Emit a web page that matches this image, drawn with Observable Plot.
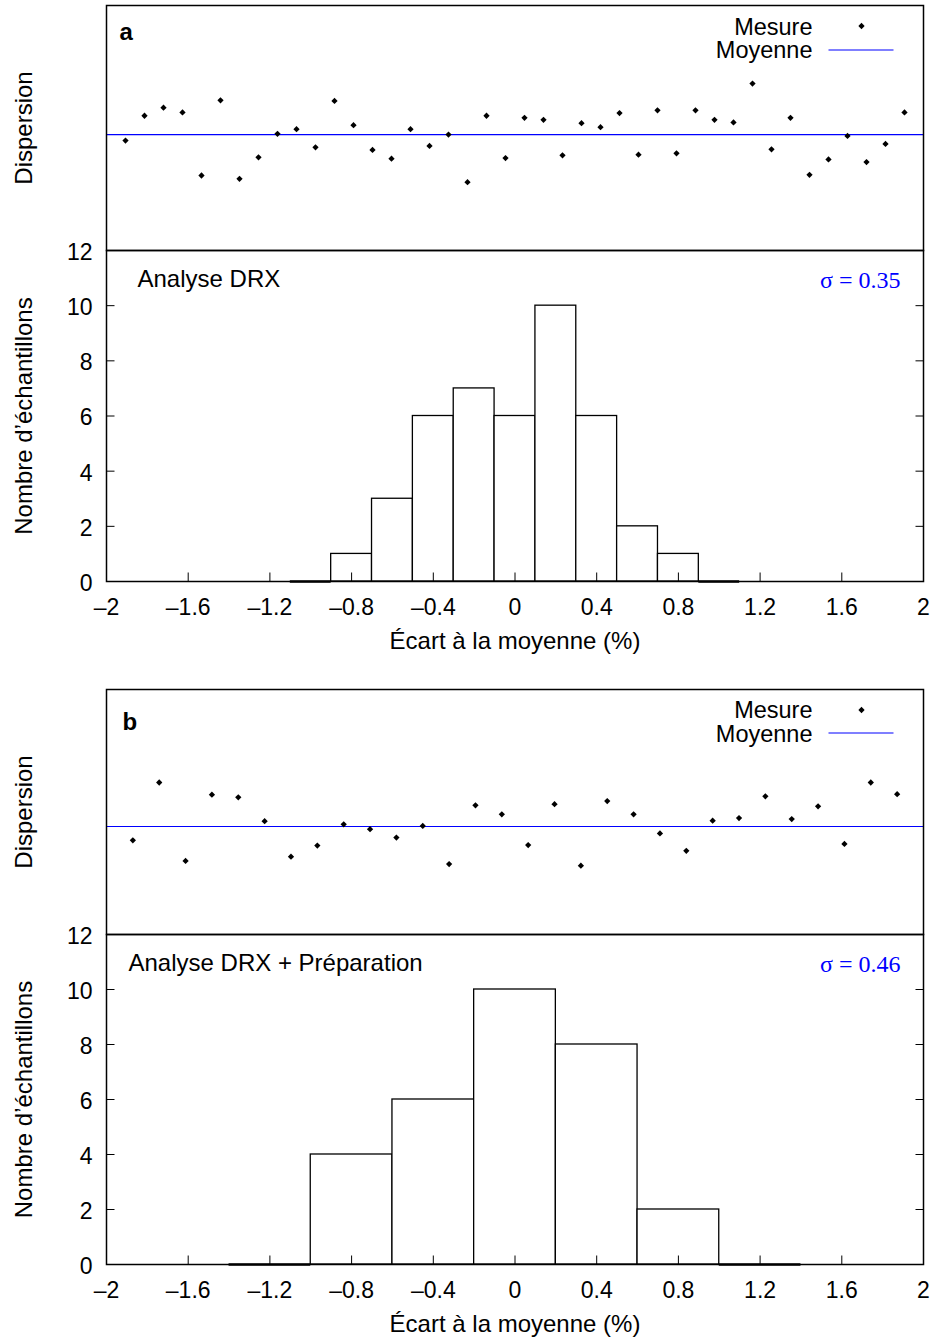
<!DOCTYPE html>
<html><head><meta charset="utf-8">
<script src="https://cdn.jsdelivr.net/npm/d3@7"></script>
<script src="https://cdn.jsdelivr.net/npm/@observablehq/plot@0.6"></script>
<style>
html,body{margin:0;padding:0;background:#fff;}
#fig{position:relative;width:936px;height:1341px;overflow:hidden;}
#fig svg{position:absolute;left:0;}
</style></head><body><div id="fig"></div>
<script>
// ---- Data ----
// Panel a: deviations of each measurement (scatter), mean line
const dispersionA = [-0.09, 0.28, 0.40, 0.33, -0.61, 0.51, -0.66, -0.34, 0.01, 0.08,
  -0.19, 0.50, 0.14, -0.23, -0.36, 0.08, -0.17, 0.00, -0.71, 0.28,
  -0.35, 0.25, 0.22, -0.31, 0.17, 0.11, 0.32, -0.30, 0.36, -0.28,
  0.36, 0.22, 0.18, 0.76, -0.22, 0.25, -0.60, -0.37, -0.02, -0.41,
  -0.14, 0.33];
const meanA = 0;
const binLowA  = [-1.1, -0.9, -0.7, -0.5, -0.3, -0.1, 0.1, 0.3, 0.5, 0.7, 0.9];
const binHighA = [-0.9, -0.7, -0.5, -0.3, -0.1, 0.1, 0.3, 0.5, 0.7, 0.9, 1.1];
const countsA  = [0, 1, 3, 6, 7, 6, 10, 6, 2, 1, 0];
const titleA = "Analyse DRX";
const sigmaA = "σ = 0.35";

// Panel b
const dispersionB = [-0.26, 0.83, -0.65, 0.60, 0.55, 0.10, -0.57, -0.36, 0.04, -0.05,
  -0.21, 0.01, -0.71, 0.40, 0.23, -0.35, 0.42, -0.74, 0.48, 0.23,
  -0.13, -0.46, 0.11, 0.16, 0.57, 0.14, 0.38, -0.33, 0.83, 0.61];
const meanB = 0;
const binLowB  = [-1.4, -1.0, -0.6, -0.2, 0.2, 0.6, 1.0];
const binHighB = [-1.0, -0.6, -0.2, 0.2, 0.6, 1.0, 1.4];
const countsB  = [0, 4, 6, 10, 8, 2, 0];
const titleB = "Analyse DRX + Préparation";
const sigmaB = "σ = 0.46";

// Axes
const xTicks = [-2, -1.6, -1.2, -0.8, -0.4, 0, 0.4, 0.8, 1.2, 1.6, 2];
const xTickLabels = ["–2", "–1.6", "–1.2", "–0.8", "–0.4", "0", "0.4", "0.8", "1.2", "1.6", "2"];
const yTicks = [0, 2, 4, 6, 8, 10, 12];
const xLabel = "Écart à la moyenne (%)";
const yLabelHist = "Nombre d’échantillons";
const yLabelScatter = "Dispersion";
const legendLabels = ["Mesure", "Moyenne"];

// ---- Drawing ----
const FONT = "'Liberation Sans', Arial, Helvetica, sans-serif";
const SERIF = "'Liberation Serif', 'Times New Roman', serif";
const BLUE = "rgb(0,0,255)";
const ML = 106, MR = 13;
const lineShape = {draw(context, l) { context.moveTo(0, 0); context.lineTo(0, -l); }};
const fig = document.getElementById("fig");

function place(svg, top) {
  svg.style.top = top + "px";
  fig.appendChild(svg);
}

function scatterPanel({values, mean, letter, letterDx, letterDy, legendDy, yDomain, top}) {
  const n = values.length;
  const svg = Plot.plot({
    width: 936, height: 255,
    marginLeft: ML, marginRight: MR, marginTop: 5, marginBottom: 5,
    style: {background: "transparent", overflow: "visible", fontFamily: FONT, fontSize: "24px"},
    x: {domain: [0, n + 1], axis: null},
    y: {domain: yDomain, axis: null},
    marks: [
      Plot.ruleY([mean], {stroke: BLUE, strokeWidth: 1.2}),
      Plot.dot(values, {x: (d, i) => i + 1, y: d => d, symbol: "square", r: 2.5, rotate: 45, fill: "black", stroke: "none"}),
      Plot.frame({stroke: "black", strokeWidth: 1.5}),
      Plot.text([letter], {frameAnchor: "top-left", dx: letterDx, dy: letterDy, lineAnchor: "bottom", textAnchor: "start", fontWeight: "bold", fontSize: 24}),
      Plot.text([legendLabels[0]], {frameAnchor: "top-right", dx: -111, dy: legendDy[0], lineAnchor: "bottom", textAnchor: "end", fontSize: 23.5}),
      Plot.text([legendLabels[1]], {frameAnchor: "top-right", dx: -111, dy: legendDy[1], lineAnchor: "bottom", textAnchor: "end", fontSize: 23.5}),
      Plot.dot([legendLabels[0]], {frameAnchor: "top-right", dx: -62, dy: legendDy[2], symbol: "square", r: 2.5, rotate: 45, fill: "black", stroke: "none"}),
      Plot.vector([legendLabels[1]], {frameAnchor: "top-right", dx: -95, dy: legendDy[3], rotate: 90, length: 65, anchor: "start", shape: lineShape, stroke: BLUE, strokeWidth: 1.2, strokeLinecap: "butt"}),
      Plot.text([yLabelScatter], {frameAnchor: "left", dx: -75, rotate: -90, lineAnchor: "bottom", textAnchor: "middle", fontSize: 24})
    ]
  });
  place(svg, top);
}

function histPanel({low, high, counts, title, titleDx, sigma, top, height, marginBottom}) {
  const bins = counts.map((c, i) => ({x1: low[i], x2: high[i], count: c}));
  const svg = Plot.plot({
    width: 936, height,
    marginLeft: ML, marginRight: MR, marginTop: 10, marginBottom,
    style: {background: "transparent", overflow: "visible", fontFamily: FONT, fontSize: "23px"},
    x: {domain: [-2, 2], axis: null},
    y: {domain: [0, 12], axis: null},
    marks: [
      Plot.rectY(bins.filter(d => d.count > 0), {x1: "x1", x2: "x2", y: "count", fill: "white", stroke: "black", strokeWidth: 1.3}),
      Plot.ruleY(bins.filter(d => d.count === 0), {x1: "x1", x2: "x2", y: "count", stroke: "black", strokeWidth: 2.6}),
      Plot.frame({stroke: "black", strokeWidth: 1.5}),
      // inward ticks
      Plot.vector(xTicks, {x: d => d, frameAnchor: "bottom", rotate: 0, length: 9, anchor: "start", shape: lineShape, stroke: "black", strokeWidth: 1, strokeLinecap: "butt"}),
      Plot.vector(yTicks, {y: d => d, frameAnchor: "left", rotate: 90, length: 8, anchor: "start", shape: lineShape, stroke: "black", strokeWidth: 1, strokeLinecap: "butt"}),
      Plot.vector(yTicks, {y: d => d, frameAnchor: "right", rotate: -90, length: 8, anchor: "start", shape: lineShape, stroke: "black", strokeWidth: 1, strokeLinecap: "butt"}),
      // tick labels
      Plot.text(xTicks, {x: d => d, text: (d, i) => xTickLabels[i], frameAnchor: "bottom", lineAnchor: "bottom", dy: 33, fontSize: 23}),
      Plot.text(yTicks, {y: d => d, text: d => String(d), frameAnchor: "left", textAnchor: "end", dx: -14, dy: 2, fontSize: 23}),
      // titles
      Plot.text([xLabel], {frameAnchor: "bottom", dy: 67, lineAnchor: "bottom", textAnchor: "middle", fontSize: 24}),
      Plot.text([yLabelHist], {frameAnchor: "left", dx: -75, rotate: -90, lineAnchor: "bottom", textAnchor: "middle", fontSize: 24}),
      Plot.text([title], {frameAnchor: "top-left", dx: titleDx, dy: 36, lineAnchor: "bottom", textAnchor: "start", fontSize: 24}),
      Plot.text([sigma], {frameAnchor: "top-right", dx: -23, dy: 37, lineAnchor: "bottom", textAnchor: "end", fontFamily: SERIF, fontSize: 24, fill: BLUE})
    ]
  });
  place(svg, top);
}

// Panel a
scatterPanel({values: dispersionA, mean: meanA, letter: "a", letterDx: 13, letterDy: 34.5,
  legendDy: [29, 52.8, 20.5, 44.5], yDomain: [-1.727, 1.922], top: 0});
histPanel({low: binLowA, high: binHighA, counts: countsA, title: titleA, titleDx: 31, sigma: sigmaA,
  top: 240, height: 430, marginBottom: 89});

// Panel b
scatterPanel({values: dispersionB, mean: meanB, letter: "b", letterDx: 16, letterDy: 40.5,
  legendDy: [28, 52, 20.5, 43.5], yDomain: [-2.038, 2.585], top: 684});
histPanel({low: binLowB, high: binHighB, counts: countsB, title: titleB, titleDx: 22, sigma: sigmaB,
  top: 924, height: 417, marginBottom: 77});
</script>
</body></html>
